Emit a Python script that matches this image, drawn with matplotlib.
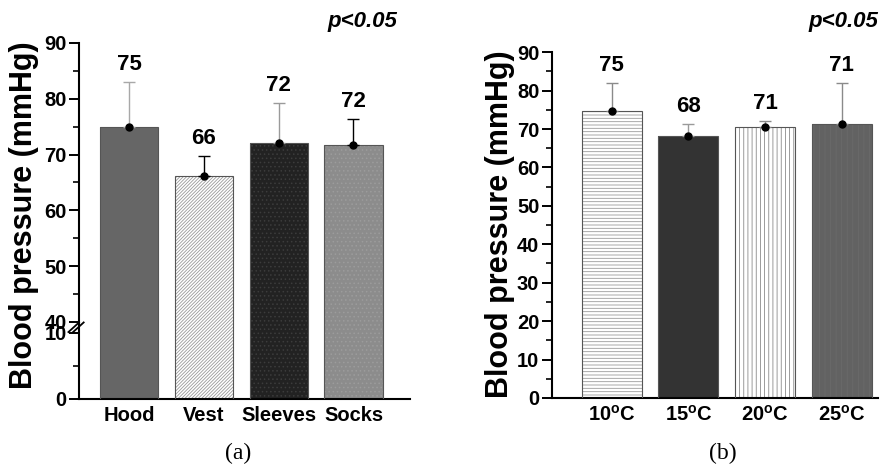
import numpy as np
import matplotlib
matplotlib.use("Agg")
import matplotlib.pyplot as plt

plt.rcParams['font.family'] = ['Liberation Sans', 'DejaVu Sans']
plt.rcParams['font.weight'] = 'bold'
plt.rcParams['mathtext.fontset'] = 'custom'
plt.rcParams['mathtext.rm'] = 'Liberation Sans:bold'
plt.rcParams['mathtext.bf'] = 'Liberation Sans:bold'
plt.rcParams['hatch.linewidth'] = 0.6

# ----------------------------
# Data
# ----------------------------
garments = ["Hood", "Vest", "Sleeves", "Socks"]
garment_mean = [75.0, 66.1, 72.0, 71.7]
garment_sd = [8.0, 3.6, 7.2, 4.7]
garment_labels = ["75", "66", "72", "72"]

temps = ["10$^{\\mathbf{o}}$C", "15$^{\\mathbf{o}}$C", "20$^{\\mathbf{o}}$C", "25$^{\\mathbf{o}}$C"]
temp_mean = [74.6, 68.3, 70.5, 71.4]
temp_sd = [7.5, 2.9, 1.7, 10.7]
temp_labels = ["75", "68", "71", "71"]

# bar styles: (face, hatch, hatch colour, errorbar colour)
garment_style = [
    ("#666666", None, None, "#a8a8a8"),
    ("#ffffff", "//////////", "#999999", "#000000"),
    ("#222222", "....", "#3c3c3c", "#9a9a9a"),
    ("#8c8c8c", "....", "#9c9c9c", "#000000"),
]
temp_style = [
    ("#ffffff", "-----", "#9a9a9a", "#8a8a8a"),
    ("#333333", None, None, "#9a9a9a"),
    ("#ffffff", "||||", "#8a8a8a", "#8a8a8a"),
    ("#626262", "|||", "#6a6a6a", "#8a8a8a"),
]


def fwd(y):
    y = np.asarray(y, dtype=float)
    return np.where(y <= 10, y * 6.6,
                    np.where(y <= 40, 66 + (y - 10) * 11 / 30, 77 + (y - 40) * 5.58))


def inv(v):
    v = np.asarray(v, dtype=float)
    return np.where(v <= 66, v / 6.6,
                    np.where(v <= 77, 10 + (v - 66) * 30 / 11, 40 + (v - 77) / 5.58))


def draw_panel(ax, names, means, sds, labels, styles):
    x = np.arange(len(names))
    for i in range(len(names)):
        face, hatch, hcol, ecol = styles[i]
        if hatch:
            ax.bar(x[i], means[i], width=0.78, color=face, hatch=hatch,
                   edgecolor=hcol, linewidth=0, zorder=2)
        else:
            ax.bar(x[i], means[i], width=0.78, color=face, linewidth=0, zorder=2)
        ax.bar(x[i], means[i], width=0.78, fill=False, edgecolor="#555555",
               linewidth=0.8, zorder=3)
        ax.errorbar(x[i], means[i], yerr=[[0], [sds[i]]], fmt="none",
                    ecolor=ecol, elinewidth=1.0, capsize=4.5, capthick=1.0, zorder=4)
        ax.plot(x[i], means[i], "o", color="black", markersize=5, zorder=5)
        ax.annotate(labels[i], (x[i], means[i] + sds[i]), xytext=(0, 5),
                    textcoords="offset points", ha="center", va="bottom",
                    fontsize=16, fontweight="bold")
    ax.set_xticks(x)
    ax.set_xticklabels(names, fontsize=14.5, fontweight="bold")
    ax.tick_params(axis="x", length=0, pad=5)
    ax.tick_params(axis="y", which="major", direction="out", length=7, width=1.4,
                   labelsize=14.5, pad=2)
    ax.tick_params(axis="y", which="minor", direction="out", length=4, width=1.2)
    ax.spines["top"].set_visible(False)
    ax.spines["right"].set_visible(False)
    ax.spines["left"].set_linewidth(1.5)
    ax.spines["bottom"].set_linewidth(1.5)
    ax.set_ylabel("Blood pressure (mmHg)", fontsize=22, fontweight="bold")


fig = plt.figure(figsize=(8.93, 4.66), dpi=100)

# ----------------------------
# Panel (a) - broken axis
# ----------------------------
ax1 = fig.add_axes([0.0885, 0.1438, 0.371, 0.764])
ax1.set_yscale("function", functions=(fwd, inv))
draw_panel(ax1, garments, garment_mean, garment_sd, garment_labels, garment_style)
ax1.set_ylim(0, 90)
ax1.set_xlim(-0.67, 3.76)
ax1.set_yticks([0, 10, 40, 50, 60, 70, 80, 90])
ax1.set_yticks([5, 45, 55, 65, 75, 85], minor=True)
ax1.yaxis.set_label_coords(-0.122, 0.517)
for dx in (0.0, 0.014):
    ax1.plot([-0.032 + dx, 0.0 + dx], [0.188, 0.215], transform=ax1.transAxes,
             color="black", linewidth=1.3, clip_on=False, zorder=6)

# ----------------------------
# Panel (b)
# ----------------------------
ax2 = fig.add_axes([0.618, 0.146, 0.365, 0.742])
draw_panel(ax2, temps, temp_mean, temp_sd, temp_labels, temp_style)
ax2.set_ylim(0, 90)
ax2.set_xlim(-0.78, 3.47)
ax2.set_yticks(np.arange(0, 91, 10))
ax2.set_yticks(np.arange(5, 90, 10), minor=True)
ax2.yaxis.set_label_coords(-0.112, 0.503)

fig.text(397 / 893, 1 - 22 / 466, "p<0.05", ha="right", va="center",
         fontsize=16, fontweight="bold", fontstyle="italic")
fig.text(878 / 893, 1 - 22 / 466, "p<0.05", ha="right", va="center",
         fontsize=16, fontweight="bold", fontstyle="italic")
fig.text(238 / 893, 1 - 453 / 466, "(a)", ha="center", va="center",
         fontsize=17, fontweight="normal", family="Liberation Serif")
fig.text(723 / 893, 1 - 453 / 466, "(b)", ha="center", va="center",
         fontsize=17, fontweight="normal", family="Liberation Serif")

fig.savefig("out.png", dpi=100)
